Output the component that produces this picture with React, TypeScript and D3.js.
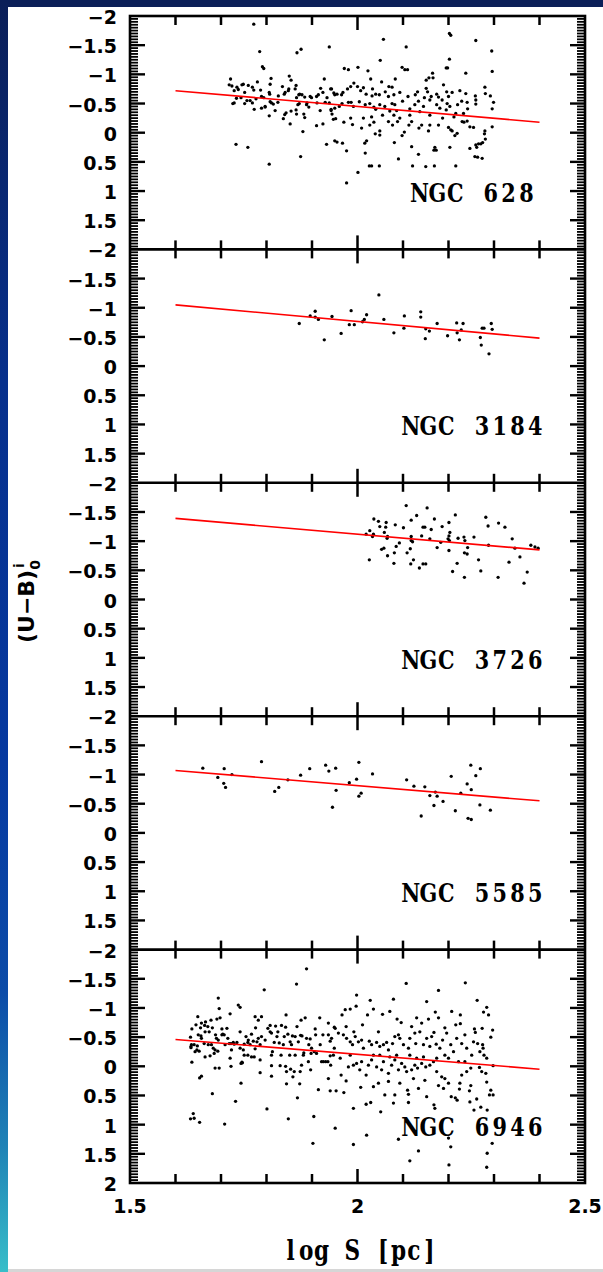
import { useEffect, useRef } from "react"
import * as d3 from "d3"

// galaxy names, one panel each (top to bottom)
const galaxies = ["NGC 628", "NGC 3184", "NGC 3726", "NGC 5585", "NGC 6946"]

// linear fits, value at log S = 1.6 and at log S = 2.4
const fitX = [1.6, 2.4]
const fitStart = [-0.72, -1.05, -1.39, -1.07, -0.46]
const fitEnd = [-0.18, -0.48, -0.85, -0.55, 0.05]

const xTickValues = [1.6, 1.7, 1.8, 1.9, 2.0, 2.1, 2.2, 2.3, 2.4]
const xTickLabels = ["1.5", "2", "2.5"]
const yTickLabels = [-2, -1.5, -1, -0.5, 0, 0.5, 1, 1.5]

// [log S, (U-B)0]
const ngc628: [number, number][] = [
  [1.772,-1.86],[1.785,-1.39],[1.791,-1.13],[1.794,-1.10],[1.867,-1.37],[1.876,-1.43],[1.938,-1.47],
  [1.721,-0.92],[1.718,-0.82],[1.724,-0.80],[1.729,-0.72],[1.735,-0.78],[1.738,-0.74],[1.746,-0.82],[1.749,-0.83],
  [1.752,-0.69],[1.734,-0.59],[1.744,-0.60],[1.726,-0.50],[1.729,-0.51],[1.733,0.20],[1.759,0.25],[1.760,-0.81],
  [1.769,-0.78],[1.772,-0.73],[1.780,-0.87],[1.787,-0.73],[1.764,-0.55],[1.769,-0.51],[1.777,-0.58],[1.773,-0.40],
  [1.789,-0.42],[1.797,-0.44],[1.794,-0.60],[1.808,-0.83],[1.810,-0.93],[1.806,-0.69],[1.807,-0.66],[1.808,-0.53],
  [1.811,-0.51],[1.815,-0.49],[1.825,-0.52],[1.826,-0.63],[1.806,-0.29],[1.819,-0.38],[1.835,-0.79],[1.839,-0.66],
  [1.841,-0.69],[1.850,-0.97],[1.854,-0.90],[1.848,-0.72],[1.849,-0.75],[1.865,-0.81],[1.863,-0.75],[1.866,-0.60],
  [1.871,-0.65],[1.873,-0.66],[1.878,-0.65],[1.884,-0.61],[1.896,-0.62],[1.899,-0.60],[1.840,-0.31],[1.843,-0.34],
  [1.852,-0.15],[1.854,-0.37],[1.866,-0.32],[1.865,-0.39],[1.869,-0.48],[1.872,-0.50],[1.882,-0.32],[1.884,-0.26],
  [1.880,-0.02],[1.888,-0.48],[1.889,-0.51],[1.910,-0.62],[1.914,-0.65],[1.911,-0.51],[1.910,-0.12],[1.919,-0.76],
  [1.924,-0.69],[1.927,-0.92],[1.918,-0.38],[1.924,-0.15],[1.932,0.20],[1.933,-0.60],[1.929,-0.52],[1.938,-0.51],
  [1.941,-0.75],[1.948,-0.68],[1.942,-0.40],[1.947,-0.23],[1.950,-0.65],[1.789,-0.62],[1.797,-0.45],[1.752,-0.50],
  [1.757,-0.55],[1.806,0.54],[1.875,0.41],[1.837,-0.24],[1.893,-0.44],
  [2.057,-1.60],[2.107,-1.47],[2.202,-1.70],[2.205,-1.67],[2.260,-1.58],[2.295,-1.40],[2.050,-1.24],[2.202,-1.26],
  [1.971,-1.10],[1.980,-1.08],[2.001,-1.12],[2.023,-1.06],[2.098,-1.12],[2.104,-1.08],[2.110,-1.08],[2.195,-1.11],
  [2.198,-1.11],[2.238,-1.02],[2.296,-1.05],[2.165,-1.02],[2.029,-0.92],[2.083,-0.92],[2.053,-0.87],[1.992,-0.85],
  [2.000,-0.79],[1.985,-0.79],[1.978,-0.75],[1.968,-0.69],[1.965,-0.65],[1.955,-0.66],[1.943,-0.75],[2.013,-0.77],
  [2.007,-0.72],[2.019,-0.66],[2.033,-0.75],[2.040,-0.66],[2.032,-0.63],[2.048,-0.65],[2.061,-0.70],[2.069,-0.79],
  [2.076,-0.78],[2.068,-0.62],[2.080,-0.65],[2.093,-0.69],[2.099,-0.54],[2.111,-0.62],[2.127,-0.65],[2.132,-0.70],
  [2.134,-0.54],[2.147,-0.60],[2.154,-0.70],[2.151,-0.90],[2.157,-0.94],[2.166,-0.94],[2.151,-0.76],[2.159,-0.56],
  [2.162,-0.62],[2.174,-0.66],[2.178,-0.61],[2.186,-0.56],[2.189,-0.82],[2.196,-0.70],[2.200,-0.62],[2.197,-0.50],
  [2.208,-0.69],[2.220,-0.48],[2.225,-0.72],[2.238,-0.67],[2.241,-0.52],[2.242,-0.41],[2.259,-0.63],[2.260,-0.56],
  [2.260,-0.49],[2.280,-0.78],[2.281,-0.67],[2.292,-0.63],[2.299,-0.52],[2.296,-0.41],[2.296,-0.10],[2.280,-0.03],
  [2.279,0.02],[2.281,0.11],[2.275,0.17],[2.271,0.19],[2.266,0.19],[2.260,0.21],[2.262,0.25],[2.258,0.41],
  [2.264,0.42],[2.274,0.44],[2.247,0.27],[2.255,-0.09],[2.241,-0.20],[2.234,-0.18],[2.230,-0.19],[2.247,-0.10],
  [2.233,-0.33],[2.216,-0.33],[2.212,-0.27],[2.219,0.01],[2.200,-0.09],[2.205,-0.05],[2.208,-0.03],[2.214,0.05],
  [2.203,0.25],[2.216,0.57],[2.170,0.25],[2.173,0.30],[2.168,0.30],[2.134,0.37],[2.121,0.57],[2.150,0.58],
  [2.169,0.57],[2.090,0.45],[2.081,0.17],[2.098,0.05],[2.159,-0.13],[2.178,-0.13],[2.187,-0.25],[2.159,-0.30],
  [2.141,-0.13],[2.135,-0.08],[2.156,-0.03],[2.119,-0.19],[2.115,-0.30],[2.113,-0.13],[2.093,-0.25],[2.088,-0.19],
  [2.080,-0.30],[2.077,-0.13],[2.071,-0.37],[2.055,-0.30],[2.049,-0.03],[2.049,0.04],[2.039,0.02],[2.036,-0.18],
  [2.031,-0.27],[2.020,0.14],[2.016,0.18],[2.017,0.35],[2.009,-0.08],[2.013,-0.25],[1.989,-0.14],[1.985,-0.25],
  [1.970,-0.18],[1.952,-0.24],[1.950,-0.42],[1.960,-0.45],[1.950,0.14],[1.955,0.16],[1.967,0.18],[1.976,0.31],
  [2.001,0.68],[1.976,0.86],[2.026,0.57],[2.031,0.57],[2.048,0.57],[1.942,-0.38],[1.944,-0.32],[1.966,-0.50],
  [1.980,-0.52],[1.986,-0.52],[1.991,-0.45],[2.004,-0.53],[2.017,-0.48],[2.027,-0.50],[2.036,-0.44],[2.040,-0.40],
  [2.049,-0.48],[2.060,-0.45],[2.076,-0.50],[2.082,-0.48],[2.086,-0.38],[2.115,-0.41],[2.126,-0.48],[2.137,-0.36],
  [2.145,-0.45],[2.174,-0.48],[2.181,-0.42],[2.195,-0.39],[2.203,-0.45],[2.229,-0.54],[2.027,-0.13],[2.068,-0.19],
  [2.103,-0.01],[2.119,0.24],
]

const ngc3184: [number, number][] = [
  [1.872,-0.73],[1.896,-0.86],[1.907,-0.94],[1.907,-0.84],[1.914,-0.80],[1.927,-0.45],[1.944,-0.85],[1.964,-0.56],
  [1.982,-0.71],[1.986,-0.95],[1.993,-0.71],[2.011,-0.76],[2.015,-0.80],[2.020,-0.88],[2.047,-1.22],[2.058,-0.80],
  [2.080,-0.57],[2.103,-0.86],[2.102,-0.65],[2.139,-0.93],[2.139,-0.84],[2.150,-0.64],[2.158,-0.60],[2.149,-0.47],
  [2.175,-0.73],[2.198,-0.52],[2.218,-0.74],[2.232,-0.73],[2.219,-0.57],[2.224,-0.45],[2.228,-0.62],[2.274,-0.65],
  [2.278,-0.65],[2.270,-0.49],[2.272,-0.36],[2.294,-0.73],[2.296,-0.63],[2.289,-0.21],
]

const ngc3726: [number, number][] = [
  [2.107,-1.61],[2.153,-1.57],[2.130,-1.44],[2.036,-1.38],[2.046,-1.34],[2.063,-1.32],[2.049,-1.25],[2.062,-1.24],
  [2.083,-1.28],[2.101,-1.23],[2.118,-1.36],[2.169,-1.38],[2.148,-1.24],[2.144,-1.24],[2.162,-1.20],[2.186,-1.25],
  [2.201,-1.32],[2.215,-1.45],[2.203,-1.15],[2.201,-1.09],[2.282,-1.41],[2.287,-1.26],[2.310,-1.31],[2.019,-1.12],
  [2.027,-1.18],[2.033,-1.08],[2.035,-1.12],[2.059,-1.15],[2.066,-1.08],[2.065,-1.05],[2.053,-0.86],[2.058,-0.88],
  [2.092,-0.97],[2.085,-0.91],[2.081,-0.80],[2.066,-0.75],[2.026,-0.68],[2.080,-0.62],[2.118,-1.08],[2.118,-1.01],
  [2.121,-0.99],[2.141,-1.09],[2.116,-0.87],[2.109,-0.80],[2.123,-0.68],[2.117,-0.61],[2.144,-0.61],[2.150,-0.61],
  [2.136,-0.54],[2.159,-1.04],[2.175,-0.89],[2.183,-0.98],[2.199,-1.04],[2.202,-1.01],[2.201,-0.84],[2.221,-1.05],
  [2.234,-1.07],[2.236,-1.01],[2.242,-0.89],[2.235,-0.80],[2.241,-0.78],[2.256,-1.07],[2.219,-0.62],[2.209,-0.48],
  [2.235,-0.38],[2.266,-0.68],[2.271,-0.49],[2.288,-0.93],[2.309,-0.38],[2.324,-1.24],[2.340,-1.04],[2.346,-0.88],
  [2.333,-0.64],[2.357,-0.73],[2.373,-0.47],[2.366,-0.28],[2.381,-0.93],[2.390,-0.90],[2.397,-0.88],
]

const ngc5585: [number, number][] = [
  [1.660,-1.11],[1.693,-0.95],[1.707,-1.10],[1.706,-0.85],[1.710,-0.78],[1.724,-1.00],[1.789,-1.22],[1.818,-0.71],
  [1.827,-0.78],[1.847,-0.91],[1.875,-0.99],[1.895,-1.10],[1.930,-1.16],[1.937,-1.06],[1.952,-1.11],[1.953,-0.73],
  [1.945,-0.44],[1.982,-0.86],[1.998,-0.92],[2.003,-1.21],[2.003,-0.63],[2.008,-0.68],[2.033,-1.01],[2.108,-0.91],
  [2.124,-0.80],[2.148,-0.79],[2.159,-0.64],[2.171,-0.70],[2.175,-0.63],[2.188,-0.54],[2.168,-0.47],[2.140,-0.29],
  [2.206,-0.97],[2.215,-0.38],[2.227,-0.68],[2.241,-0.84],[2.243,-0.25],[2.250,-0.23],[2.250,-0.74],[2.249,-1.16],
  [2.260,-0.98],[2.270,-1.10],[2.269,-0.48],[2.292,-0.39],
]

const ngc6946: [number, number][] = [
  [1.888,-1.67],[1.866,-1.41],[1.795,-1.31],[1.694,-1.17],[1.696,-0.99],[1.738,-1.05],[1.742,-1.01],[1.649,-0.85],
  [1.636,-0.64],[1.633,-0.50],[1.635,-0.37],[1.634,-0.34],[1.643,-0.25],[1.647,-0.28],[1.652,-0.26],[1.636,-0.07],
  [1.645,-0.71],[1.655,-0.66],[1.657,-0.74],[1.665,-0.59],[1.666,-0.76],[1.671,-0.68],[1.678,-0.79],[1.681,-0.66],
  [1.688,-0.54],[1.691,-0.81],[1.698,-0.83],[1.702,-0.64],[1.704,-0.55],[1.713,-0.65],[1.657,-0.48],[1.663,-0.39],
  [1.672,-0.37],[1.683,-0.31],[1.685,-0.22],[1.693,-0.26],[1.694,-0.45],[1.676,-0.18],[1.665,-0.16],[1.653,0.20],
  [1.657,0.17],[1.687,0.03],[1.696,0.03],[1.681,0.47],[1.639,0.81],[1.641,0.89],[1.633,0.90],[1.653,0.96],
  [1.708,0.99],[1.720,-0.90],[1.715,-0.48],[1.722,-0.39],[1.729,-0.38],[1.735,-0.41],[1.723,-0.28],[1.722,0.00],
  [1.746,-0.07],[1.747,-0.06],[1.744,0.29],[1.732,0.60],[1.742,-0.59],[1.755,-0.51],[1.759,-0.41],[1.749,-0.28],
  [1.751,-0.19],[1.767,-0.55],[1.771,-0.43],[1.775,-0.85],[1.782,-0.79],[1.789,-0.85],[1.776,-0.66],[1.782,-0.48],
  [1.789,-0.51],[1.775,-0.30],[1.767,-0.16],[1.773,-0.16],[1.786,-0.11],[1.786,0.11],[1.803,-0.65],[1.808,-0.70],
  [1.811,-0.57],[1.813,-0.25],[1.811,0.17],[1.801,0.73],[1.820,-0.69],[1.825,-0.59],[1.828,-0.40],[1.830,-0.01],
  [1.839,-0.51],[1.843,-0.88],[1.842,-0.67],[1.842,0.00],[1.844,0.30],[1.851,-0.19],[1.852,-0.42],[1.857,-0.52],
  [1.853,0.05],[1.861,0.09],[1.858,0.18],[1.848,0.90],[1.868,0.54],[1.873,0.30],[1.874,0.09],[1.875,-0.53],
  [1.867,-0.68],[1.876,-0.79],[1.885,-0.83],[1.878,-0.52],[1.882,-0.23],[1.881,-0.19],[1.893,-0.37],[1.896,-0.47],
  [1.898,-0.22],[1.897,0.06],[1.904,0.86],[1.902,1.32],[1.907,-0.64],[1.908,-0.54],[1.914,0.40],[1.917,-0.83],
  [1.924,-0.54],[1.925,-0.08],[1.930,-0.08],[1.935,-0.08],[1.940,-0.18],[1.941,-0.02],[1.936,0.21],[1.940,0.42],
  [1.936,-0.74],[1.943,-0.48],[1.949,-0.67],[1.949,-0.31],[1.951,1.06],
  [1.634,-0.32],[1.641,-0.37],[1.648,-0.35],[1.650,-0.54],[1.656,-0.52],[1.664,-0.70],[1.674,-0.59],[1.679,-0.37],
  [1.687,-0.28],[1.690,-0.48],[1.702,-0.54],[1.707,-0.54],[1.718,-0.39],[1.727,-0.41],[1.742,-0.31],[1.751,-0.38],
  [1.760,-0.45],[1.764,-0.37],[1.779,-0.42],[1.786,-0.37],[1.797,-0.45],[1.808,-0.59],[1.817,-0.41],[1.823,-0.51],
  [1.833,-0.70],[1.837,-0.37],[1.847,-0.55],[1.855,-0.37],[1.863,-0.51],[1.870,-0.42],[1.888,-0.48],[1.899,-0.31],
  [1.905,-0.25],[1.910,-0.22],[1.918,-0.37],[1.921,-0.08],[1.936,-0.54],[1.940,-0.43],[1.709,-0.37],[1.720,-0.14],
  [1.744,-0.05],[1.759,-0.19],[1.811,-0.19],[1.832,-0.19],[1.863,-0.19],[1.877,-0.02],[1.892,-0.08],[1.811,-0.01],
  [1.844,0.09],
  [2.107,-1.42],[2.237,-1.43],[2.178,-1.30],[1.998,-1.22],[2.028,-1.13],[2.079,-1.15],[2.152,-1.11],[2.263,-1.13],
  [2.284,-1.01],[2.288,-0.88],[2.277,-0.93],[1.997,-1.03],[1.984,-0.98],[1.973,-0.97],[1.966,-0.88],[2.035,-0.98],
  [2.055,-0.89],[2.071,-0.94],[2.022,-0.88],[2.087,-0.81],[2.096,-0.75],[2.130,-0.83],[2.156,-0.81],[2.171,-0.93],
  [2.178,-0.83],[2.207,-0.94],[2.226,-0.88],[2.226,-0.73],[2.216,-0.71],[2.257,-0.64],[2.259,-0.58],[2.274,-0.65],
  [2.297,-0.62],[2.293,-0.50],[2.264,-0.39],[2.275,-0.37],[2.276,-0.31],[2.269,-0.25],[2.278,-0.19],[2.284,-0.14],
  [2.298,-0.01],[2.268,0.02],[2.273,0.09],[2.282,0.12],[2.284,0.27],[2.293,0.41],[2.298,0.49],[2.290,0.49],
  [2.285,0.75],[2.271,0.70],[2.262,0.56],[2.247,0.61],[2.256,0.75],[2.246,0.42],[2.249,0.33],[2.249,0.03],
  [2.240,0.09],[2.229,0.15],[2.225,0.29],[2.224,0.39],[2.215,0.54],[2.219,0.58],[2.206,0.52],[2.200,0.29],
  [2.192,0.21],[2.185,0.18],[2.174,0.09],[2.167,-0.08],[2.159,-0.02],[2.150,0.01],[2.141,-0.05],[2.132,0.03],
  [2.126,-0.02],[2.119,0.06],[2.108,0.09],[2.104,0.01],[2.097,-0.05],[2.090,0.06],[2.082,-0.11],[2.075,-0.02],
  [2.068,0.12],[2.057,-0.08],[2.053,0.06],[2.042,0.01],[2.031,-0.11],[2.024,-0.02],[2.019,0.15],[2.009,-0.08],
  [2.005,0.06],[1.998,-0.05],[1.991,-0.02],[1.980,0.01],[1.964,0.15],[1.975,0.25],[1.991,0.72],[1.970,0.45],
  [2.020,1.18],[1.991,1.34],[2.007,0.36],[2.019,0.65],[2.029,0.62],[2.035,0.35],[2.046,0.29],[2.051,0.78],
  [2.060,0.49],[2.068,0.26],[2.079,0.63],[2.082,0.49],[2.093,0.29],[2.110,0.41],[2.112,0.48],[2.112,0.62],
  [2.090,1.25],[2.115,1.62],[2.134,1.45],[2.123,0.21],[2.134,0.38],[2.148,0.24],[2.152,0.52],[2.168,0.66],
  [2.170,0.72],[2.178,0.33],[2.189,0.38],[2.200,1.23],[2.205,1.38],[2.201,1.69],[2.285,1.49],[2.284,1.73],
  [2.296,1.32],[1.953,0.42],[1.951,-0.65],[1.958,-0.57],[1.969,-0.54],[1.976,-0.48],[1.984,-0.42],[1.989,-0.37],
  [1.995,-0.51],[2.002,-0.42],[2.009,-0.45],[2.013,-0.31],[2.026,-0.43],[2.031,-0.37],[2.042,-0.41],[2.049,-0.34],
  [2.057,-0.37],[2.064,-0.41],[2.068,-0.28],[2.077,-0.39],[2.082,-0.51],[2.093,-0.48],[2.101,-0.37],[2.112,-0.31],
  [2.115,-0.48],[2.126,-0.57],[2.128,-0.39],[2.137,-0.59],[2.145,-0.37],[2.152,-0.48],[2.159,-0.34],[2.163,-0.51],
  [2.173,-0.38],[2.181,-0.31],[2.187,-0.45],[2.192,-0.19],[2.196,-0.57],[2.205,-0.37],[2.211,-0.25],[2.218,-0.48],
  [2.229,-0.39],[2.236,-0.54],[2.240,-0.31],[2.251,-0.19],[2.255,-0.42],[2.115,-0.19],[2.130,-0.14],[2.145,-0.16],
  [2.174,-0.14],[2.200,-0.14],[2.222,-0.08],[2.236,-0.08],[2.035,-0.19],[2.049,-0.19],[2.071,-0.16],[2.086,-0.19],
  [1.984,-0.19],[1.962,-0.14],[1.947,-0.19],[1.975,-0.68],[1.992,-0.59],[2.011,-0.71],[2.046,-0.59],[2.090,-0.54],
  [2.119,-0.68],[2.141,-0.74],[2.168,-0.58],[2.192,-0.66],
]

const panels = [ngc628, ngc3184, ngc3726, ngc5585, ngc6946]

function App() {
    const ref = useRef<SVGSVGElement>(null)

    useEffect(() => {
        const svg = d3.select(ref.current)
        svg.selectAll("*").remove()

        const W = 603
        const H = 1272
        const left = 130
        const right = 585
        const top = 16
        const panelH = 233.4
        const tickFont = "'DejaVu Sans', sans-serif"
        const slabFont = "'DejaVu Serif', serif"

        // typewriter-like text: one glyph per fixed cell, squeezed sideways
        const monoText = (parent: any, str: string, cx: number, baseline: number, advance: number, size: number) => {
            const squeeze = 0.8
            const g = parent.append("g")
                .attr("transform", `translate(${cx},${baseline}) scale(${squeeze},1)`)
            const chars = str.split("")
            const step = advance / squeeze
            g.selectAll("text")
                .data(chars)
                .enter()
                .append("text")
                .attr("x", (d: string, k: number) => (k - (chars.length - 1) / 2) * step)
                .attr("text-anchor", "middle")
                .attr("font-family", slabFont)
                .attr("font-weight", "bold")
                .attr("font-size", size)
                .text((d: string) => d)
        }

        // slide background
        const defs = svg.append("defs")
        const grad = defs.append("linearGradient")
            .attr("id", "edge").attr("x1", 0).attr("y1", 0).attr("x2", 0).attr("y2", 1)
        const stops: [number, string][] = [[0, "#0b1f58"], [0.3, "#07308c"], [0.6, "#0639a0"], [0.78, "#0c4ca8"], [0.9, "#1f82b6"], [1, "#38bec9"]]
        stops.forEach(([o, c]) => grad.append("stop").attr("offset", o).attr("stop-color", c))
        svg.append("rect").attr("width", W).attr("height", H).attr("fill", "#0b1f58")
        svg.append("rect").attr("width", 8).attr("height", H).attr("fill", "url(#edge)")
        svg.append("rect").attr("x", 8).attr("y", 7).attr("width", W - 8).attr("height", H - 10).attr("fill", "#ffffff")
        svg.append("rect").attr("x", 8).attr("y", H - 3).attr("width", W - 8).attr("height", 3).attr("fill", "#d6d6d6")

        const x = d3.scaleLinear().domain([1.5, 2.5]).range([left, right])
        const yFor = (i: number) => d3.scaleLinear().domain([-2, 2]).range([top + i * panelH, top + (i + 1) * panelH])

        panels.forEach((pts, i) => {
            const y = yFor(i)
            const g = svg.append("g")

            g.selectAll("circle")
                .data(pts)
                .enter()
                .append("circle")
                .attr("cx", d => x(d[0]))
                .attr("cy", d => y(d[1]))
                .attr("r", 1.65)
                .attr("fill", "#000")

            g.append("line")
                .attr("x1", x(fitX[0])).attr("y1", y(fitStart[i]))
                .attr("x2", x(fitX[1])).attr("y2", y(fitEnd[i]))
                .attr("stroke", "#ff0000")
                .attr("stroke-width", 1.6)

            // y ticks on both sides
            const ticks = d3.range(-1.95, 1.96, 0.05)
            ticks.forEach(v => {
                const major = Math.abs(v * 2 - Math.round(v * 2)) < 1e-6
                const len = major ? 15 : 8
                const yy = y(v)
                g.append("line").attr("x1", left).attr("x2", left + len).attr("y1", yy).attr("y2", yy)
                    .attr("stroke", "#000").attr("stroke-width", major ? 2.4 : 1.8)
                g.append("line").attr("x1", right).attr("x2", right - len).attr("y1", yy).attr("y2", yy)
                    .attr("stroke", "#000").attr("stroke-width", major ? 2.4 : 1.8)
            })

            const labels = i === panels.length - 1 ? [...yTickLabels, 2] : yTickLabels
            g.selectAll("text.ytick")
                .data(labels)
                .enter()
                .append("text")
                .attr("class", "ytick")
                .attr("x", 117)
                .attr("y", d => y(d) + 8)
                .attr("text-anchor", "end")
                .attr("font-family", tickFont)
                .attr("font-weight", "bold")
                .attr("font-size", 19)
                .text(d => (d < 0 ? "\u2212" + Math.abs(d) : String(d)))

            monoText(g, galaxies[i], 473, y(-2) + 186, 17.8, 26)
        })

        // x ticks at every panel boundary
        for (let j = 0; j <= panels.length; j++) {
            const yb = top + j * panelH
            xTickValues.forEach(v => {
                const len = Math.abs(v - 2) < 1e-6 ? 14 : 9
                const y1 = j < panels.length ? yb + len : yb
                const y2 = j > 0 ? yb - len : yb
                svg.append("line").attr("x1", x(v)).attr("x2", x(v)).attr("y1", y1).attr("y2", y2)
                    .attr("stroke", "#000").attr("stroke-width", 2.5)
            })
            if (j > 0 && j < panels.length) {
                svg.append("line").attr("x1", left).attr("x2", right).attr("y1", yb).attr("y2", yb)
                    .attr("stroke", "#000").attr("stroke-width", 2.6)
            }
        }

        svg.append("rect")
            .attr("x", left).attr("y", top)
            .attr("width", right - left).attr("height", panelH * panels.length)
            .attr("fill", "none").attr("stroke", "#000").attr("stroke-width", 2.6)

        const bottom = top + panelH * panels.length
        svg.selectAll("text.xtick")
            .data(xTickLabels)
            .enter()
            .append("text")
            .attr("class", "xtick")
            .attr("x", d => x(+d))
            .attr("y", bottom + 30)
            .attr("text-anchor", "middle")
            .attr("font-family", tickFont)
            .attr("font-weight", "bold")
            .attr("font-size", 19)
            .text(d => d)

        monoText(svg, "log S [pc]", 360, 1260, 15.4, 27)

        const yl = svg.append("text")
            .attr("transform", "translate(34,643) rotate(-90)")
            .attr("font-family", tickFont)
            .attr("font-weight", "bold")
            .attr("font-size", 22)
        yl.append("tspan").text("(U\u2212B)")
        yl.append("tspan").attr("font-size", 14).attr("dy", 6).text("0")
        yl.append("tspan").attr("font-size", 14).attr("dx", -8).attr("dy", -16).text("i")
    }, [])

    return (
        <div style={{ position: "absolute", left: 0, top: 0 }}>
            <svg ref={ref} width="603" height="1272"></svg>
        </div>
    )
}

export default App
